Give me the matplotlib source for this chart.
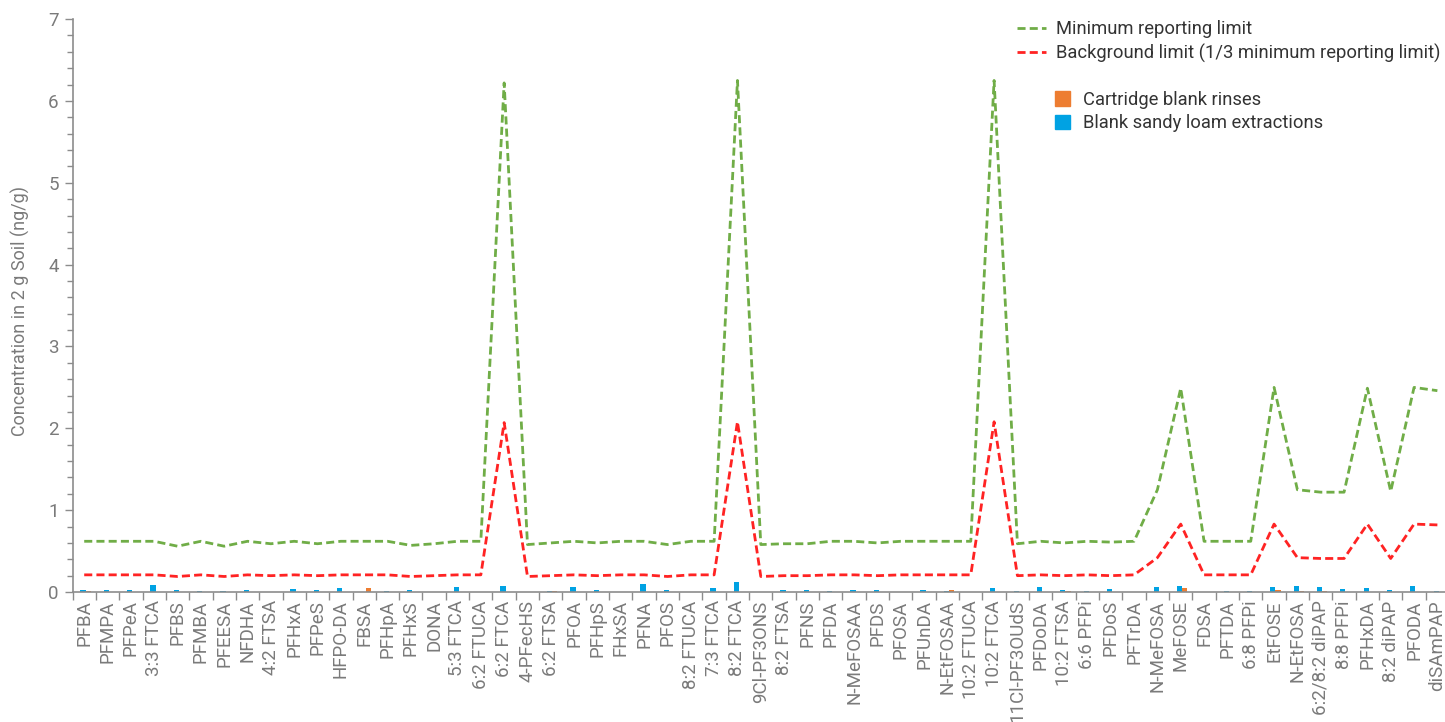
import matplotlib
matplotlib.use("Agg")
import matplotlib.pyplot as plt
import numpy as np
from matplotlib.lines import Line2D
from matplotlib.patches import Patch
from matplotlib.ticker import MultipleLocator, FixedLocator

plt.rcParams['font.family'] = ['Roboto', 'DejaVu Sans']

compounds = [
    "PFBA", "PFMPA", "PFPeA", "3:3 FTCA", "PFBS", "PFMBA", "PFEESA", "NFDHA",
    "4:2 FTSA", "PFHxA", "PFPeS", "HFPO-DA", "FBSA", "PFHpA", "PFHxS", "DONA",
    "5:3 FTCA", "6:2 FTUCA", "6:2 FTCA", "4-PFecHS", "6:2 FTSA", "PFOA", "PFHpS",
    "FHxSA", "PFNA", "PFOS", "8:2 FTUCA", "7:3 FTCA", "8:2 FTCA", "9Cl-PF3ONS",
    "8:2 FTSA", "PFNS", "PFDA", "N-MeFOSAA", "PFDS", "PFOSA", "PFUnDA",
    "N-EtFOSAA", "10:2 FTUCA", "10:2 FTCA", "11Cl-PF3OUdS", "PFDoDA",
    "10:2 FTSA", "6:6 PFPi", "PFDoS", "PFTrDA", "N-MeFOSA", "MeFOSE", "FDSA",
    "PFTDA", "6:8 PFPi", "EtFOSE", "N-EtFOSA", "6:2/8:2 diPAP", "8:8 PFPi",
    "PFHxDA", "8:2 diPAP", "PFODA", "diSAmPAP",
]

# minimum reporting limit, ng/g
mrl = [
    0.62, 0.62, 0.62, 0.62, 0.56, 0.62, 0.56, 0.62, 0.59, 0.62, 0.59, 0.62,
    0.62, 0.62, 0.57, 0.59, 0.62, 0.62, 6.22, 0.58, 0.60, 0.62, 0.60, 0.62,
    0.62, 0.58, 0.62, 0.62, 6.25, 0.58, 0.59, 0.59, 0.62, 0.62, 0.60, 0.62,
    0.62, 0.62, 0.62, 6.25, 0.59, 0.62, 0.60, 0.62, 0.61, 0.62, 1.25, 2.49,
    0.62, 0.62, 0.62, 2.50, 1.25, 1.22, 1.22, 2.49, 1.23, 2.50, 2.46,
]

# background limit (1/3 of the reporting limit), ng/g
background = [
    0.21, 0.21, 0.21, 0.21, 0.19, 0.21, 0.19, 0.21, 0.20, 0.21, 0.20, 0.21,
    0.21, 0.21, 0.19, 0.20, 0.21, 0.21, 2.07, 0.19, 0.20, 0.21, 0.20, 0.21,
    0.21, 0.19, 0.21, 0.21, 2.08, 0.19, 0.20, 0.20, 0.21, 0.21, 0.20, 0.21,
    0.21, 0.21, 0.21, 2.08, 0.20, 0.21, 0.20, 0.21, 0.20, 0.21, 0.42, 0.83,
    0.21, 0.21, 0.21, 0.83, 0.42, 0.41, 0.41, 0.83, 0.41, 0.83, 0.82,
]

cartridge_rinse = [
    0.010, 0.005, 0.000, 0.005, 0.000, 0.000, 0.000, 0.000, 0.000, 0.000,
    0.000, 0.000, 0.045, 0.000, 0.000, 0.000, 0.000, 0.000, 0.000, 0.000,
    0.010, 0.000, 0.000, 0.000, 0.000, 0.000, 0.000, 0.000, 0.000, 0.000,
    0.000, 0.000, 0.000, 0.000, 0.005, 0.000, 0.000, 0.030, 0.000, 0.000,
    0.000, 0.000, 0.010, 0.000, 0.000, 0.003, 0.000, 0.050, 0.000, 0.000,
    0.005, 0.025, 0.016, 0.008, 0.000, 0.000, 0.000, 0.000, 0.000,
]

sandy_loam = [
    0.020, 0.025, 0.025, 0.085, 0.025, 0.010, 0.015, 0.025, 0.005, 0.035,
    0.025, 0.055, 0.005, 0.010, 0.030, 0.000, 0.060, 0.000, 0.075, 0.000,
    0.010, 0.060, 0.025, 0.000, 0.094, 0.025, 0.000, 0.050, 0.122, 0.003,
    0.025, 0.020, 0.010, 0.020, 0.020, 0.000, 0.025, 0.010, 0.000, 0.053,
    0.010, 0.057, 0.025, 0.010, 0.037, 0.000, 0.057, 0.073, 0.000, 0.010,
    0.010, 0.057, 0.077, 0.057, 0.040, 0.045, 0.025, 0.073, 0.012,
]

green = "#70AD47"
red = "#FF2323"
orange = "#ED7D31"
blue = "#00A2E3"
axis_grey = "#8C8C8C"
label_grey = "#7A7A7A"

fig = plt.figure(figsize=(14.45, 7.22), dpi=100)
ax = fig.add_axes([0.0502, 0.180, 0.9526, 0.7936])

x = np.arange(len(compounds))
bw = 0.22
ax.bar(x - 0.05, sandy_loam, width=bw, color=blue, zorder=2)
ax.bar(x + 0.17, cartridge_rinse, width=bw, color=orange, zorder=2)

ax.plot(x, mrl, color=green, lw=2.0, dashes=(2.9, 1.5), zorder=3)
ax.plot(x, background, color=red, lw=2.0, dashes=(2.9, 1.5), zorder=3)

ax.set_xlim(-0.5, len(compounds) - 0.5)
ax.set_ylim(0, 7)
ax.yaxis.set_major_locator(MultipleLocator(1))
ax.yaxis.set_minor_locator(MultipleLocator(0.2))

ax.set_xticks(x)
ax.set_xticklabels(compounds, rotation=90, fontsize=13.5, color=label_grey)
ax.xaxis.set_minor_locator(FixedLocator(np.arange(-0.5, len(compounds), 1.0)))
ax.tick_params(axis='x', which='major', length=0, pad=6)
ax.tick_params(axis='x', which='minor', length=6, color=axis_grey, width=1)
ax.tick_params(axis='y', which='major', length=6, color=axis_grey, width=1,
               labelsize=13.5, labelcolor=label_grey, pad=4)
ax.tick_params(axis='y', which='minor', length=4, color=axis_grey, width=1)

for side in ('top', 'right'):
    ax.spines[side].set_visible(False)
for side in ('left', 'bottom'):
    ax.spines[side].set_color(axis_grey)
    ax.spines[side].set_linewidth(1.2)

ax.set_ylabel("Concentration in 2 g Soil (ng/g)", fontsize=13,
              color=label_grey)
ax.yaxis.set_label_coords(-0.031, 0.49)

line_handles = [
    Line2D([], [], color=green, lw=2.0, dashes=(2.9, 1.5)),
    Line2D([], [], color=red, lw=2.0, dashes=(2.9, 1.5)),
]
fig.legend(line_handles,
           ["Minimum reporting limit",
            "Background limit (1/3 minimum reporting limit)"],
           loc='upper left', bbox_to_anchor=(0.6927, 0.995),
           frameon=False, fontsize=13.2, handlelength=1.55,
           handletextpad=0.55, labelspacing=0.3,
           labelcolor="#333333")

bar_handles = [Patch(color=orange), Patch(color=blue)]
fig.legend(bar_handles,
           ["Cartridge blank rinses", "Blank sandy loam extractions"],
           loc='upper left', bbox_to_anchor=(0.719, 0.897),
           frameon=False, fontsize=13.2, handlelength=0.8,
           handleheight=0.8, handletextpad=0.7, labelspacing=0.3,
           labelcolor="#333333")

fig.savefig("out.png", dpi=100)
